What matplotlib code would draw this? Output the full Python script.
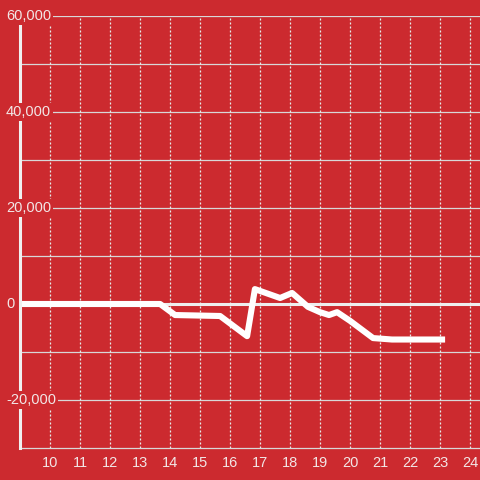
import matplotlib
matplotlib.use("Agg")
import matplotlib.pyplot as plt
import matplotlib.transforms as mtransforms

plt.rcParams['font.family'] = ['Liberation Sans', 'DejaVu Sans']

# serie (hora do dia, valor)
horas = [9.0, 13.67, 14.17, 15.67, 16.57, 16.83, 17.67, 18.07, 18.6, 19.0, 19.3, 19.57, 20.0, 20.77, 21.4, 23.17]
valores = [0, 0, -2300, -2500, -6700, 3100, 1250, 2300, -600, -1700, -2300, -1700, -3500, -7100, -7400, -7400]

x_ticks = list(range(10, 25))
y_grid = list(range(-20000, 60001, 10000))
y_labels = [-20000, 0, 20000, 40000, 60000]

bg = '#cc2a2f'
txt = '#f2e6e6'

fig = plt.figure(figsize=(4.8, 4.8), dpi=100, facecolor=bg)
ax = fig.add_axes([20/480, 32/480, 460/480, 432/480], facecolor=bg)
ax.set_xlim(9, 24 + 1/3)
ax.set_ylim(-30000, 60000)

for v in y_grid:
    if v == 0:
        ax.axhline(v, color='#eeeeee', lw=2.2, zorder=2)
    else:
        ax.axhline(v, color='#d8d8d8', lw=0.9, zorder=1)
for x in x_ticks:
    ax.axvline(x, color='#e4ecec', lw=0.9, ls=(0, (1.6, 1.6)), zorder=1)

ax.plot(horas, valores, color='white', lw=4.4, solid_joinstyle='round',
        solid_capstyle='butt', zorder=3)

for s in ['top', 'right']:
    ax.spines[s].set_visible(False)
ax.spines['left'].set_color('#f0f0f0')
ax.spines['left'].set_linewidth(2.2)
ax.spines['left'].set_zorder(4)
ax.spines['bottom'].set_color('#d8d8d8')
ax.spines['bottom'].set_linewidth(0.9)

ax.set_yticks([])
ax.set_xticks(x_ticks)
ax.set_xticklabels([str(x) for x in x_ticks])
ax.tick_params(axis='x', length=0, pad=6, labelsize=10.5, labelcolor=txt)

tr = mtransforms.blended_transform_factory(fig.transFigure, ax.transData)
for v in y_labels:
    ax.text(6/480, v, f"{v:,}", transform=tr, ha='left', va='center',
            fontsize=10.5, color=txt, zorder=5, clip_on=False,
            bbox=dict(facecolor=bg, edgecolor='none', pad=1.5))

fig.savefig("out.png", dpi=100, facecolor=bg)
